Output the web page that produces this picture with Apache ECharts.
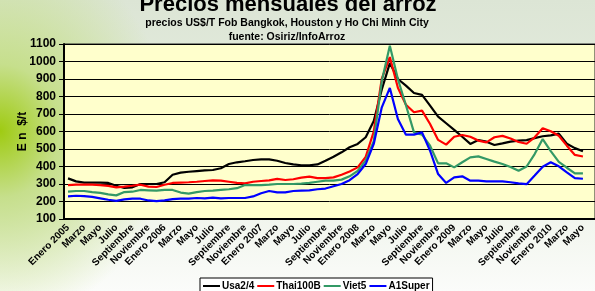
<!DOCTYPE html>
<html>
<head>
<meta charset="utf-8">
<script src="https://cdn.jsdelivr.net/npm/echarts@6/dist/echarts.min.js"></script>
<style>
html, body { margin: 0; padding: 0; }
#chart {
	width: 595px;
	height: 291px;
	background:
		radial-gradient(ellipse 170px 190px at 0 45%, #9fcb12 0%, #c6df8c 35%, rgba(225, 235, 215, 0) 100%),
		linear-gradient(#dce5d5, #e9f0e3 55%, #fbfcfa);
}
</style>
</head>
<body>
<div id="chart"></div>
<script>
// meses Enero 2005 - Junio 2010
const monthNames = ['Enero', 'Febrero', 'Marzo', 'Abril', 'Mayo', 'Junio', 'Julio', 'Agosto', 'Septiembre', 'Octubre', 'Noviembre', 'Diciembre']
const categories = []
for (let y = 2005; y <= 2010; y++) {
	monthNames.forEach((m, i) => {
		if (y === 2010 && i > 5) return
		categories.push(i === 0 ? m + ' ' + y : m)
	})
}

const usa = [332, 315, 308, 308, 308, 306, 290, 277, 281, 300, 300, 300, 310, 353, 365, 370, 374, 378, 380, 390, 414, 424, 430, 437, 441, 441, 433, 420, 412, 407, 407, 412, 433, 456, 481, 510, 529, 567, 660, 840, 991, 900, 862, 820, 809, 748, 685, 647, 609, 570, 529, 551, 542, 523, 532, 542, 548, 551, 562, 573, 578, 588, 530, 505, 487, null]
const thai = [294, 296, 296, 296, 294, 289, 281, 285, 290, 296, 285, 283, 296, 306, 308, 310, 313, 317, 321, 319, 313, 306, 304, 313, 317, 321, 329, 323, 327, 336, 342, 334, 334, 338, 353, 372, 395, 455, 600, 902, 1025, 850, 753, 710, 719, 643, 552, 525, 570, 580, 570, 548, 538, 567, 575, 560, 540, 530, 567, 619, 601, 576, 519, 466, 457, null]
const viet = [256, 260, 260, 254, 249, 241, 235, 254, 256, 266, 264, 262, 266, 266, 251, 245, 254, 260, 262, 266, 270, 276, 294, 294, 294, 296, 300, 300, 300, 302, 306, 313, 319, 319, 325, 344, 375, 435, 545, 888, 1090, 900, 750, 595, 582, 519, 418, 418, 395, 424, 452, 458, 443, 428, 414, 397, 376, 400, 471, 557, 488, 426, 393, 361, 361, null]
const a1super = [229, 233, 231, 226, 218, 210, 204, 212, 216, 216, 206, 202, 206, 214, 216, 216, 220, 218, 222, 218, 220, 220, 220, 229, 247, 260, 252, 252, 260, 262, 264, 270, 274, 287, 300, 322, 357, 414, 529, 738, 849, 671, 582, 582, 595, 490, 357, 306, 338, 344, 319, 319, 315, 315, 315, 310, 304, 299, 348, 399, 424, 401, 367, 334, 330, null]

const seriesNames = ['Usa2/4', 'Thai100B', 'Viet5', 'A1Super']
const seriesColors = ['#000000', '#ff0000', '#339966', '#0000ff']
const seriesData = [usa, thai, viet, a1super]

const font = 'Arial, "Liberation Sans", sans-serif'

const myChart = echarts.init(document.getElementById('chart'))
const option = {
	animation: false,
	backgroundColor: 'transparent',
	textStyle: { fontFamily: font },
	title: [
		{
			text: 'Precios mensuales del arroz',
			left: 283,
			textAlign: 'center',
			top: -11,
			textStyle: { fontSize: 22, fontWeight: 'bold', color: '#000', fontFamily: font },
		},
		{
			text: 'precios US$/T Fob Bangkok, Houston y Ho Chi Minh City\nfuente: Osiriz/InfoArroz',
			left: 282,
			textAlign: 'center',
			top: 11,
			textStyle: { fontSize: 10.5, fontWeight: 'bold', color: '#000', lineHeight: 14, fontFamily: font },
		},
	],
	legend: {
		data: seriesNames,
		left: 200,
		top: 278,
		icon: 'rect',
		itemWidth: 17,
		itemHeight: 2,
		itemGap: 3,
		padding: [3, 3],
		borderColor: '#000',
		borderWidth: 1,
		backgroundColor: '#fff',
		textStyle: { fontSize: 10, fontWeight: 'bold', color: '#000', fontFamily: font, padding: [0, 0, 0, -3] },
	},
	grid: {
		left: 64,
		top: 44,
		width: 533,
		height: 175,
		show: true,
		backgroundColor: '#ffffcc',
		borderColor: '#222',
		borderWidth: 1,
	},
	xAxis: {
		type: 'category',
		data: categories,
		axisLine: { lineStyle: { color: '#000', width: 2 } },
		axisTick: { interval: 0, length: 3, lineStyle: { color: '#000' } },
		axisLabel: {
			interval: 1,
			rotate: 45,
			margin: 7,
			fontSize: 10,
			fontWeight: 'bold',
			color: '#000',
			fontFamily: font,
		},
	},
	yAxis: {
		type: 'value',
		min: 100,
		max: 1100,
		interval: 100,
		name: 'E n  $/t',
		nameLocation: 'middle',
		nameRotate: 90,
		nameGap: 35,
		nameMoveOverlap: false,
		nameTextStyle: { fontSize: 12, fontWeight: 'bold', color: '#000', fontFamily: font },
		axisLine: { show: true, lineStyle: { color: '#000', width: 2 } },
		axisTick: { show: true, length: 5, lineStyle: { color: '#000' } },
		axisLabel: {
			fontSize: 12,
			fontWeight: 'bold',
			color: '#000',
			margin: 8,
			fontFamily: font,
			formatter: (v) => String(v),
		},
		splitLine: { lineStyle: { color: '#000', width: 1 } },
	},
	series: seriesNames.map((name, i) => ({
		name: name,
		type: 'line',
		data: seriesData[i],
		symbol: 'none',
		color: seriesColors[i],
		lineStyle: { width: 2.2, color: seriesColors[i] },
	})),
}
myChart.setOption(option)
</script>
</body>
</html>
